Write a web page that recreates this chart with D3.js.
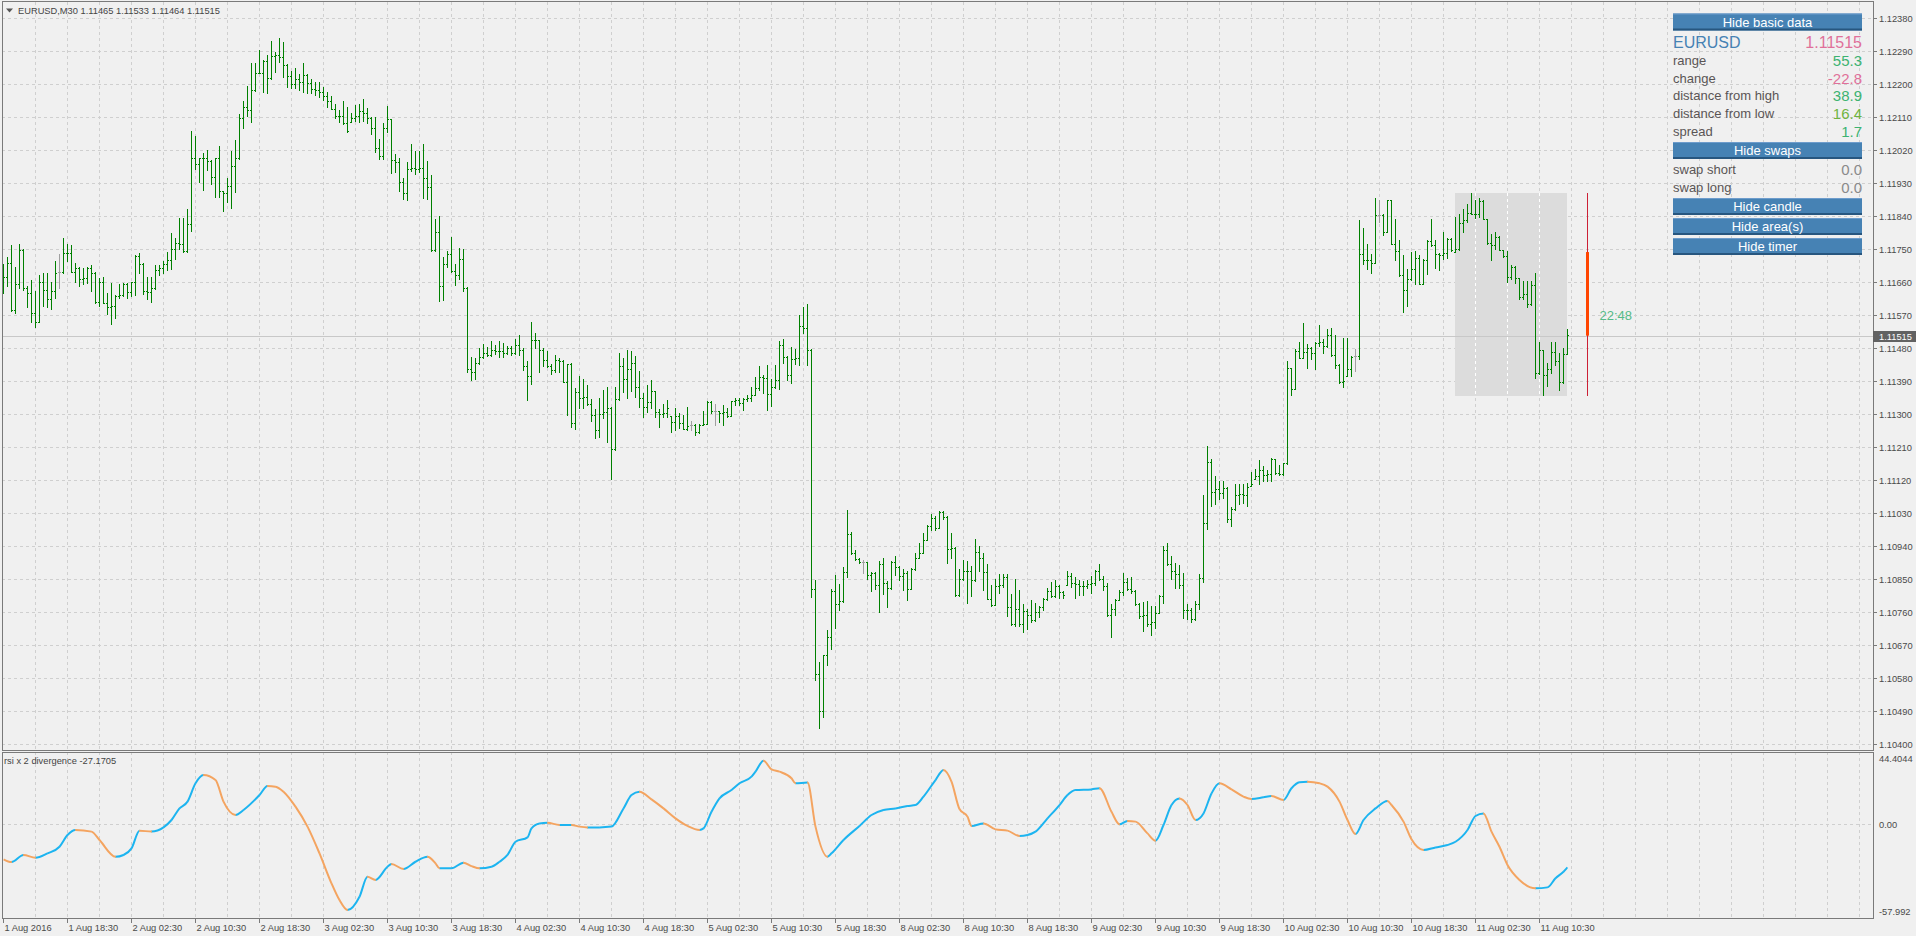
<!DOCTYPE html>
<html><head><meta charset="utf-8">
<script src="https://cdn.jsdelivr.net/npm/d3@7"></script>
<style>
html,body{margin:0;padding:0;background:#f0f0f0;overflow:hidden}
svg{display:block}
text{font-family:"Liberation Sans",Arial,sans-serif}
</style></head><body>
<svg id="c" width="1916" height="936"></svg>
<script>
// ---------------- DATA ----------------
const headerText = "EURUSD,M30  1.11465 1.11533 1.11464 1.11515";
const indicatorTitle = "rsi x 2 divergence -27.1705";

const opens = [
1.11670,1.11673,1.11711,1.11584,1.11654,1.11746,1.11643,1.11629,1.11575,1.11552,
1.11659,1.11637,1.11613,1.11635,1.11686,1.11686,1.11738,1.11740,1.11688,1.11697,
1.11668,1.11670,1.11697,1.11684,1.11605,1.11659,1.11604,1.11593,1.11595,1.11623,
1.11625,1.11654,1.11634,1.11659,1.11732,1.11709,1.11636,1.11634,1.11643,1.11693,
1.11697,1.11708,1.11719,1.11750,1.11765,1.11763,1.11745,1.11817,1.11999,1.11982,
1.11997,1.11999,1.11990,1.11945,1.11997,1.11908,1.11902,1.11923,1.11975,1.11997,
1.12106,1.12138,1.12129,1.12184,1.12231,1.12230,1.12263,1.12215,1.12277,1.12279,
1.12275,1.12252,1.12223,1.12199,1.12214,1.12205,1.12225,1.12202,1.12186,1.12184,
1.12179,1.12168,1.12154,1.12133,1.12113,1.12114,1.12093,1.12097,1.12106,1.12114,
1.12126,1.12120,1.12108,1.12079,1.12025,1.12004,1.12079,1.12104,1.11993,1.11987,
1.11933,1.11903,1.11968,1.11971,1.11968,1.11970,1.11944,1.11919,1.11748,1.11796,
1.11650,1.11709,1.11735,1.11689,1.11680,1.11724,1.11644,1.11424,1.11415,1.11439,
1.11455,1.11466,1.11462,1.11475,1.11471,1.11473,1.11466,1.11480,1.11466,1.11489,
1.11475,1.11430,1.11403,1.11503,1.11501,1.11475,1.11448,1.11430,1.11419,1.11446,
1.11445,1.11388,1.11436,1.11275,1.11360,1.11344,1.11346,1.11327,1.11296,1.11257,
1.11300,1.11305,1.11316,1.11205,1.11341,1.11430,1.11396,1.11424,1.11439,1.11374,
1.11344,1.11319,1.11333,1.11362,1.11305,1.11301,1.11303,1.11294,1.11277,1.11295,
1.11275,1.11260,1.11269,1.11269,1.11251,1.11271,1.11274,1.11334,1.11307,1.11307,
1.11303,1.11306,1.11295,1.11335,1.11337,1.11330,1.11341,1.11344,1.11353,1.11371,
1.11400,1.11398,1.11355,1.11374,1.11392,1.11489,1.11455,1.11407,1.11450,1.11453,
1.11539,1.11535,1.11475,1.10823,1.10592,1.10489,1.10642,1.10692,1.10816,1.10783,
1.10789,1.10869,1.10973,1.10921,1.10904,1.10895,1.10895,1.10862,1.10866,1.10835,
1.10891,1.10839,1.10825,1.10896,1.10882,1.10857,1.10866,1.10823,1.10877,1.10907,
1.10921,1.10957,1.10994,1.11016,1.10989,1.11033,1.11019,1.10933,1.10935,1.10807,
1.10850,1.10871,1.10873,1.10846,1.10924,1.10907,1.10869,1.10796,1.10780,1.10832,
1.10835,1.10855,1.10775,1.10728,1.10768,1.10728,1.10762,1.10751,1.10737,1.10760,
1.10774,1.10795,1.10818,1.10803,1.10832,1.10814,1.10833,1.10859,1.10839,1.10837,
1.10830,1.10832,1.10837,1.10838,1.10873,1.10849,1.10832,1.10751,1.10768,1.10794,
1.10814,1.10841,1.10822,1.10816,1.10781,1.10750,1.10751,1.10728,1.10732,1.10757,
1.10803,1.10930,1.10890,1.10871,1.10865,1.10835,1.10766,1.10765,1.10741,1.10783,
1.10853,1.11003,1.11170,1.11087,1.11096,1.11084,1.11099,1.11015,1.11040,1.11078,
1.11081,1.11079,1.11104,1.11122,1.11131,1.11146,1.11133,1.11137,1.11176,1.11138,
1.11135,1.11165,1.11425,1.11369,1.11472,1.11454,1.11470,1.11481,1.11467,1.11493,
1.11497,1.11485,1.11515,1.11460,1.11435,1.11388,1.11405,1.11424,1.11458,1.11458,
1.11737,1.11720,1.11721,1.11713,1.11842,1.11842,1.11796,1.11883,1.11764,1.11745,
1.11679,1.11637,1.11667,1.11695,1.11726,1.11655,1.11719,1.11772,1.11760,1.11735,
1.11733,1.11738,1.11776,1.11743,1.11749,1.11822,1.11829,1.11849,1.11846,1.11845,
1.11881,1.11832,1.11765,1.11760,1.11784,1.11747,1.11731,1.11675,1.11702,1.11670,
1.11620,1.11626,1.11599,1.11651,1.11411,1.11474,1.11406,1.11422,1.11470,1.11445,
1.11388,1.11465];

const highs = [
1.11708,1.11727,1.11761,1.11700,1.11764,1.11750,1.11650,1.11665,1.11636,1.11679,
1.11685,1.11684,1.11659,1.11717,1.11736,1.11779,1.11764,1.11761,1.11711,1.11700,
1.11697,1.11700,1.11705,1.11686,1.11670,1.11673,1.11631,1.11656,1.11625,1.11654,
1.11656,1.11656,1.11661,1.11734,1.11738,1.11711,1.11673,1.11675,1.11706,1.11705,
1.11717,1.11741,1.11793,1.11779,1.11834,1.11835,1.11859,1.12072,1.12058,1.11999,
1.12011,1.12020,1.11992,1.11999,1.12032,1.11909,1.11943,1.12017,1.12047,1.12118,
1.12154,1.12195,1.12257,1.12257,1.12293,1.12265,1.12279,1.12317,1.12286,1.12325,
1.12314,1.12254,1.12236,1.12243,1.12226,1.12256,1.12226,1.12214,1.12206,1.12205,
1.12191,1.12179,1.12168,1.12145,1.12129,1.12154,1.12137,1.12120,1.12143,1.12145,
1.12159,1.12134,1.12110,1.12111,1.12049,1.12093,1.12140,1.12105,1.12010,1.11998,
1.11944,1.11988,1.12035,1.12016,1.12016,1.12035,1.11991,1.11953,1.11833,1.11840,
1.11729,1.11745,1.11784,1.11710,1.11753,1.11751,1.11646,1.11455,1.11453,1.11480,
1.11492,1.11483,1.11500,1.11487,1.11500,1.11494,1.11486,1.11486,1.11505,1.11516,
1.11480,1.11445,1.11551,1.11521,1.11503,1.11480,1.11471,1.11436,1.11462,1.11453,
1.11446,1.11437,1.11439,1.11371,1.11405,1.11396,1.11380,1.11342,1.11314,1.11344,
1.11366,1.11374,1.11318,1.11373,1.11466,1.11453,1.11475,1.11471,1.11459,1.11418,
1.11357,1.11380,1.11394,1.11364,1.11314,1.11328,1.11337,1.11294,1.11315,1.11303,
1.11298,1.11318,1.11280,1.11273,1.11273,1.11307,1.11335,1.11335,1.11328,1.11309,
1.11325,1.11315,1.11336,1.11344,1.11344,1.11344,1.11353,1.11374,1.11400,1.11432,
1.11407,1.11435,1.11396,1.11435,1.11500,1.11505,1.11457,1.11483,1.11477,1.11569,
1.11592,1.11601,1.11477,1.10848,1.10623,1.10644,1.10712,1.10823,1.10862,1.10837,
1.10882,1.11039,1.10978,1.10930,1.10906,1.10903,1.10896,1.10869,1.10868,1.10898,
1.10907,1.10845,1.10898,1.10914,1.10885,1.10877,1.10871,1.10880,1.10921,1.10948,
1.10975,1.10998,1.11028,1.11021,1.11036,1.11035,1.11021,1.10975,1.10936,1.10877,
1.10903,1.10900,1.10886,1.10960,1.10939,1.10921,1.10892,1.10835,1.10851,1.10865,
1.10865,1.10865,1.10810,1.10851,1.10819,1.10783,1.10768,1.10794,1.10785,1.10777,
1.10798,1.10825,1.10841,1.10848,1.10833,1.10816,1.10873,1.10866,1.10855,1.10848,
1.10845,1.10848,1.10857,1.10875,1.10892,1.10859,1.10839,1.10783,1.10795,1.10821,
1.10866,1.10853,1.10855,1.10821,1.10785,1.10786,1.10791,1.10777,1.10777,1.10807,
1.10939,1.10948,1.10912,1.10894,1.10889,1.10866,1.10783,1.10771,1.10789,1.10865,
1.11080,1.11214,1.11178,1.11131,1.11117,1.11117,1.11100,1.11047,1.11108,1.11108,
1.11110,1.11113,1.11143,1.11151,1.11174,1.11158,1.11146,1.11181,1.11177,1.11160,
1.11167,1.11445,1.11426,1.11476,1.11497,1.11549,1.11490,1.11484,1.11495,1.11542,
1.11505,1.11533,1.11535,1.11515,1.11436,1.11506,1.11508,1.11458,1.11476,1.11828,
1.11808,1.11763,1.11735,1.11890,1.11883,1.11845,1.11884,1.11884,1.11831,1.11774,
1.11733,1.11695,1.11742,1.11745,1.11733,1.11722,1.11774,1.11831,1.11774,1.11740,
1.11795,1.11781,1.11779,1.11838,1.11845,1.11860,1.11872,1.11904,1.11885,1.11890,
1.11885,1.11833,1.11790,1.11796,1.11785,1.11747,1.11745,1.11705,1.11704,1.11671,
1.11663,1.11663,1.11663,1.11685,1.11497,1.11475,1.11438,1.11497,1.11497,1.11467,
1.11481,1.11533];

const lows = [
1.11629,1.11650,1.11582,1.11575,1.11643,1.11638,1.11593,1.11552,1.11538,1.11550,
1.11595,1.11591,1.11586,1.11617,1.11643,1.11684,1.11718,1.11686,1.11661,1.11650,
1.11654,1.11656,1.11636,1.11602,1.11595,1.11602,1.11573,1.11545,1.11563,1.11617,
1.11623,1.11617,1.11623,1.11625,1.11685,1.11626,1.11615,1.11606,1.11641,1.11679,
1.11684,1.11693,1.11695,1.11723,1.11750,1.11743,1.11743,1.11800,1.11967,1.11934,
1.11911,1.11965,1.11926,1.11893,1.11893,1.11855,1.11879,1.11861,1.11906,1.11995,
1.12079,1.12114,1.12097,1.12182,1.12229,1.12179,1.12176,1.12213,1.12234,1.12261,
1.12220,1.12193,1.12188,1.12188,1.12184,1.12179,1.12176,1.12175,1.12170,1.12165,
1.12156,1.12138,1.12132,1.12106,1.12097,1.12091,1.12068,1.12097,1.12100,1.12097,
1.12100,1.12095,1.12065,1.12015,1.11995,1.11995,1.12068,1.11956,1.11959,1.11907,
1.11886,1.11885,1.11962,1.11955,1.11959,1.11889,1.11887,1.11745,1.11744,1.11607,
1.11612,1.11701,1.11687,1.11651,1.11669,1.11636,1.11415,1.11392,1.11396,1.11437,
1.11453,1.11457,1.11457,1.11464,1.11455,1.11455,1.11464,1.11462,1.11464,1.11460,
1.11419,1.11339,1.11383,1.11480,1.11414,1.11430,1.11428,1.11410,1.11415,1.11415,
1.11387,1.11298,1.11265,1.11260,1.11315,1.11316,1.11324,1.11280,1.11235,1.11237,
1.11289,1.11225,1.11124,1.11203,1.11339,1.11360,1.11344,1.11362,1.11346,1.11319,
1.11291,1.11305,1.11316,1.11291,1.11264,1.11292,1.11291,1.11250,1.11257,1.11262,
1.11259,1.11257,1.11257,1.11242,1.11248,1.11270,1.11273,1.11303,1.11271,1.11277,
1.11271,1.11291,1.11294,1.11325,1.11325,1.11312,1.11335,1.11335,1.11352,1.11366,
1.11357,1.11312,1.11323,1.11371,1.11368,1.11439,1.11394,1.11385,1.11436,1.11435,
1.11521,1.11433,1.10800,1.10574,1.10444,1.10474,1.10616,1.10660,1.10715,1.10766,
1.10787,1.10855,1.10919,1.10901,1.10894,1.10866,1.10850,1.10816,1.10823,1.10760,
1.10810,1.10775,1.10824,1.10862,1.10846,1.10821,1.10792,1.10822,1.10875,1.10906,
1.10920,1.10956,1.10985,1.10985,1.10988,1.11015,1.10894,1.10907,1.10805,1.10805,
1.10848,1.10785,1.10805,1.10844,1.10871,1.10821,1.10795,1.10777,1.10779,1.10812,
1.10828,1.10750,1.10725,1.10721,1.10721,1.10706,1.10714,1.10734,1.10736,1.10746,
1.10766,1.10794,1.10800,1.10802,1.10798,1.10798,1.10833,1.10828,1.10798,1.10807,
1.10807,1.10825,1.10812,1.10835,1.10848,1.10821,1.10750,1.10692,1.10753,1.10793,
1.10807,1.10821,1.10812,1.10780,1.10744,1.10707,1.10723,1.10698,1.10716,1.10756,
1.10785,1.10889,1.10850,1.10825,1.10825,1.10745,1.10741,1.10732,1.10737,1.10768,
1.10841,1.10986,1.11049,1.11054,1.11067,1.11072,1.11005,1.10995,1.11038,1.11054,
1.11058,1.11049,1.11104,1.11122,1.11108,1.11117,1.11117,1.11117,1.11135,1.11134,
1.11134,1.11163,1.11351,1.11368,1.11452,1.11453,1.11426,1.11449,1.11422,1.11485,
1.11467,1.11484,1.11458,1.11426,1.11385,1.11374,1.11405,1.11404,1.11417,1.11449,
1.11710,1.11695,1.11685,1.11712,1.11824,1.11787,1.11795,1.11763,1.11720,1.11676,
1.11578,1.11595,1.11665,1.11654,1.11654,1.11654,1.11681,1.11758,1.11697,1.11693,
1.11722,1.11725,1.11745,1.11742,1.11748,1.11795,1.11824,1.11845,1.11835,1.11838,
1.11831,1.11763,1.11720,1.11751,1.11747,1.11729,1.11660,1.11669,1.11656,1.11615,
1.11615,1.11592,1.11596,1.11399,1.11410,1.11351,1.11376,1.11413,1.11435,1.11365,
1.11385,1.11464];

const closes = [
1.11673,1.11711,1.11584,1.11654,1.11746,1.11643,1.11629,1.11575,1.11552,1.11659,
1.11637,1.11613,1.11635,1.11684,1.11686,1.11738,1.11740,1.11688,1.11697,1.11668,
1.11670,1.11697,1.11684,1.11605,1.11659,1.11604,1.11593,1.11595,1.11623,1.11625,
1.11654,1.11634,1.11659,1.11732,1.11709,1.11636,1.11634,1.11643,1.11693,1.11697,
1.11708,1.11719,1.11750,1.11765,1.11763,1.11745,1.11817,1.11999,1.11982,1.11997,
1.11999,1.11990,1.11945,1.11997,1.11908,1.11902,1.11923,1.11975,1.11997,1.12106,
1.12138,1.12129,1.12184,1.12231,1.12230,1.12263,1.12215,1.12277,1.12279,1.12275,
1.12252,1.12223,1.12199,1.12214,1.12205,1.12225,1.12202,1.12186,1.12184,1.12179,
1.12168,1.12154,1.12133,1.12113,1.12114,1.12093,1.12072,1.12106,1.12114,1.12126,
1.12120,1.12108,1.12079,1.12025,1.12004,1.12079,1.12104,1.11993,1.11987,1.11933,
1.11903,1.11968,1.11971,1.11968,1.11970,1.11944,1.11919,1.11748,1.11796,1.11650,
1.11709,1.11735,1.11689,1.11680,1.11724,1.11644,1.11424,1.11415,1.11439,1.11455,
1.11466,1.11462,1.11475,1.11471,1.11473,1.11466,1.11480,1.11466,1.11489,1.11475,
1.11430,1.11403,1.11503,1.11501,1.11475,1.11448,1.11430,1.11419,1.11446,1.11445,
1.11388,1.11436,1.11275,1.11360,1.11344,1.11346,1.11327,1.11296,1.11257,1.11300,
1.11305,1.11316,1.11205,1.11341,1.11430,1.11396,1.11424,1.11439,1.11374,1.11344,
1.11319,1.11333,1.11362,1.11305,1.11301,1.11303,1.11316,1.11277,1.11295,1.11275,
1.11260,1.11268,1.11269,1.11251,1.11271,1.11274,1.11334,1.11307,1.11307,1.11303,
1.11306,1.11295,1.11335,1.11337,1.11330,1.11341,1.11344,1.11353,1.11371,1.11400,
1.11398,1.11355,1.11374,1.11392,1.11489,1.11455,1.11407,1.11450,1.11453,1.11539,
1.11535,1.11475,1.10823,1.10592,1.10489,1.10642,1.10692,1.10816,1.10783,1.10789,
1.10869,1.10973,1.10921,1.10904,1.10895,1.10895,1.10862,1.10866,1.10835,1.10891,
1.10839,1.10825,1.10896,1.10882,1.10857,1.10866,1.10823,1.10877,1.10907,1.10921,
1.10957,1.10994,1.11016,1.10989,1.11033,1.11019,1.10933,1.10935,1.10807,1.10850,
1.10871,1.10873,1.10846,1.10924,1.10907,1.10869,1.10796,1.10780,1.10832,1.10835,
1.10855,1.10775,1.10728,1.10768,1.10728,1.10762,1.10751,1.10737,1.10760,1.10774,
1.10795,1.10818,1.10803,1.10832,1.10814,1.10807,1.10859,1.10839,1.10837,1.10830,
1.10832,1.10837,1.10838,1.10873,1.10849,1.10832,1.10751,1.10768,1.10794,1.10814,
1.10841,1.10822,1.10816,1.10781,1.10750,1.10751,1.10728,1.10732,1.10757,1.10803,
1.10930,1.10890,1.10871,1.10865,1.10835,1.10766,1.10765,1.10741,1.10783,1.10853,
1.11003,1.11170,1.11087,1.11096,1.11084,1.11099,1.11015,1.11040,1.11078,1.11081,
1.11079,1.11100,1.11108,1.11131,1.11146,1.11133,1.11137,1.11176,1.11138,1.11135,
1.11165,1.11425,1.11369,1.11472,1.11454,1.11470,1.11481,1.11467,1.11493,1.11497,
1.11485,1.11515,1.11460,1.11435,1.11388,1.11390,1.11424,1.11456,1.11458,1.11737,
1.11720,1.11721,1.11713,1.11842,1.11842,1.11796,1.11883,1.11764,1.11745,1.11679,
1.11637,1.11667,1.11695,1.11726,1.11655,1.11719,1.11772,1.11760,1.11735,1.11733,
1.11738,1.11776,1.11746,1.11749,1.11822,1.11829,1.11849,1.11846,1.11845,1.11881,
1.11832,1.11765,1.11760,1.11784,1.11748,1.11731,1.11675,1.11702,1.11670,1.11620,
1.11626,1.11599,1.11651,1.11411,1.11474,1.11406,1.11422,1.11470,1.11445,1.11388,
1.11465,1.11515];

// time-axis labels, one every 16 bars starting at bar 0
const timeLabels = ["1 Aug 2016","1 Aug 18:30","2 Aug 02:30","2 Aug 10:30","2 Aug 18:30",
"3 Aug 02:30","3 Aug 10:30","3 Aug 18:30","4 Aug 02:30","4 Aug 10:30","4 Aug 18:30",
"5 Aug 02:30","5 Aug 10:30","5 Aug 18:30","8 Aug 02:30","8 Aug 10:30","8 Aug 18:30",
"9 Aug 02:30","9 Aug 10:30","9 Aug 18:30","10 Aug 02:30","10 Aug 10:30","10 Aug 18:30",
"11 Aug 02:30","11 Aug 10:30"];
const labelStep = 16;

const priceTicks = [1.12380,1.12290,1.12200,1.12110,1.12020,1.11930,1.11840,1.11750,1.11660,
1.11570,1.11480,1.11390,1.11300,1.11210,1.11120,1.11030,1.10940,1.10850,1.10760,1.10670,
1.10580,1.10490,1.10400];
const bidPrice = 1.11515;

// indicator: bar index and value
const rsiBar = [0,2,5,8,11,14,16,18,22,24,28,30,32,34,37,40,42,44,46,48,50,53,55,58,60,64,66,68,70,73,
76,79,82,84,86,89,91,93,96,97,100,103,106,108,109,112,115,117,119,122,124,126,128,131,132,134,136,139,
142,144,146,149,152,155,157,159,162,165,168,171,174,175,177,179,182,184,187,188,190,192,194,197,198,
201,203,206,207,210,214,217,220,223,226,228,230,233,235,237,239,241,242,245,248,251,254,256,258,261,
264,266,268,272,274,277,279,281,283,286,288,290,292,294,296,298,300,302,304,307,310,312,315,317,320,
322,324,326,329,331,334,336,338,340,343,346,347,350,352,355,358,361,363,366,368,370,372,374,376,379,
383,386,388,390,391];
const rsiVal = [-22.2,-23.9,-19.5,-21.2,-18.5,-14.4,-7.1,-4.0,-5.0,-10.2,-20.6,-19.5,-15.4,-4.4,-5.0,
-2.4,2.2,9.4,13.6,25.0,30.1,27.0,13.6,5.3,8.4,17.7,23.3,22.9,19.8,10.5,-1.9,-18.5,-37.1,-47.5,-53.7,
-45.4,-33.0,-35.0,-26.8,-25.1,-28.2,-23.7,-20.6,-24.7,-27.8,-27.8,-24.3,-26.4,-27.8,-26.8,-23.7,-19.5,
-11.3,-8.6,-3.0,0.1,0.5,-0.9,-0.9,-1.9,-2.4,-2.4,-1.9,9.4,17.7,19.8,15.0,9.4,3.2,-1.5,-4.0,-3.0,7.3,
15.6,20.8,25.0,29.1,32.2,39.0,33.6,32.2,28.1,25.0,25.4,-1.9,-20.6,-18.5,-10.2,-1.5,5.3,8.4,9.4,10.9,
11.5,16.7,27.0,33.2,26.0,9.0,4.3,-1.5,0.1,-3.6,-4.4,-7.7,-7.1,-5.0,3.2,11.5,17.7,20.8,21.2,21.9,7.3,
-0.5,1.6,1.2,-6.1,-10.6,-0.9,11.5,15.6,11.5,2.2,6.3,18.7,25.0,21.2,16.7,15.2,16.3,17.1,14.6,21.9,25.6,
26.0,25.0,22.9,13.6,2.2,-6.5,2.2,9.4,14.0,11.5,1.2,-9.8,-16.4,-14.8,-13.3,-11.3,-4.0,4.7,6.3,-5.0,
-14.4,-25.7,-35.0,-40.2,-39.6,-34.0,-29.9,-27.1705];
const rsiTicks = [44.4044, 0, -57.992];
const rsiTickLabels = ["44.4044","0.00","-57.992"];

// info panel
const symbolName = "EURUSD";
const symbolPrice = "1.11515";
const panelLabels = ["range","change","distance from high","distance from low","spread"];
const panelValues = ["55.3","-22.8","38.9","16.4","1.7"];
const panelValueColors = ["#3cb371","#e0709a","#3cb371","#6fb43f","#3cb371"];
const swapLabels = ["swap short","swap long"];
const swapValues = ["0.0","0.0"];
const buttonLabels = ["Hide basic data","Hide swaps","Hide candle","Hide area(s)","Hide timer"];
const timerText = "22:48";
const dayStartBar = 363;      // first bar of 11 Aug
const dayOpen = 1.11743;

// ---------------- DRAWING ----------------
const svg = d3.select("#c");
const n = closes.length;
const W = 1916, H = 936;
const LEFT = 2, RIGHT = 1873, MAIN_TOP = 1.5, MAIN_BOT = 750, IND_TOP = 752, IND_BOT = 918;
const FONT = "'Liberation Sans', Arial, sans-serif";

const x = d3.scaleLinear().domain([0, n - 1]).range([3.5, 3.5 + 4 * (n - 1)]);
const y = d3.scaleLinear().domain([1.10400, 1.12380]).range([744.5, 18.5]);
const yr = d3.scaleLinear().domain([-57.992, 44.4044]).range([917, 752]);

svg.append("rect").attr("width", W).attr("height", H).attr("fill", "#f0f0f0");

const gridColor = "#cfcfcf";
const dash = "3,3";
const vGridBars = d3.range(8, 470, 8).filter(b => x(b) < RIGHT);

// main grid
const grid = svg.append("g").attr("shape-rendering", "crispEdges");
grid.selectAll(".hg").data(priceTicks).join("line")
  .attr("x1", LEFT).attr("x2", RIGHT)
  .attr("y1", d => Math.round(y(d) - 0.5) + 0.5).attr("y2", d => Math.round(y(d) - 0.5) + 0.5)
  .attr("stroke", gridColor).attr("stroke-dasharray", dash);
grid.selectAll(".vg").data(vGridBars).join("line")
  .attr("x1", d => x(d)).attr("x2", d => x(d))
  .attr("y1", MAIN_TOP).attr("y2", MAIN_BOT)
  .attr("stroke", gridColor).attr("stroke-dasharray", dash);
// indicator grid
grid.selectAll(".vgi").data(vGridBars).join("line")
  .attr("x1", d => x(d)).attr("x2", d => x(d))
  .attr("y1", IND_TOP).attr("y2", IND_BOT)
  .attr("stroke", gridColor).attr("stroke-dasharray", dash);
grid.append("line").attr("x1", LEFT).attr("x2", RIGHT)
  .attr("y1", Math.round(yr(0)) + 0.5).attr("y2", Math.round(yr(0)) + 0.5)
  .attr("stroke", gridColor).attr("stroke-dasharray", dash);

// today's area (high/low box)
const dayHigh = d3.max(highs.slice(dayStartBar));
const dayLow = d3.min(lows.slice(dayStartBar));
const bx0 = x(dayStartBar) - 0.5, bx1 = x(n - 1) - 0.5;
svg.append("rect").attr("x", bx0).attr("width", bx1 - bx0)
  .attr("y", Math.round(y(dayHigh))).attr("height", Math.round(y(dayLow)) - Math.round(y(dayHigh)))
  .attr("fill", "#dcdcdc").attr("shape-rendering", "crispEdges");
svg.append("g").attr("shape-rendering", "crispEdges")
  .selectAll("line").data(vGridBars.filter(b => x(b) > bx0 && x(b) < bx1)).join("line")
  .attr("x1", d => x(d)).attr("x2", d => x(d))
  .attr("y1", Math.round(y(dayHigh))).attr("y2", Math.round(y(dayLow)))
  .attr("stroke", "#ffffff").attr("stroke-dasharray", dash);

// bid line
const bidY = Math.round(y(bidPrice)) + 0.5;
svg.append("line").attr("x1", LEFT).attr("x2", RIGHT).attr("y1", bidY).attr("y2", bidY)
  .attr("stroke", "#c8c8c8").attr("shape-rendering", "crispEdges");

// OHLC bars
const bars = d3.range(n).map(i => ({i, o: opens[i], h: highs[i], l: lows[i], c: closes[i]}));
const gb = svg.append("g").attr("shape-rendering", "crispEdges");
const col = d => (d.o === d.c ? "#a0a0a0" : "#008000");
const ry = v => Math.round(y(v) - 0.5) + 0.5;
gb.selectAll(".v").data(bars).join("line")
  .attr("x1", d => x(d.i)).attr("x2", d => x(d.i))
  .attr("y1", d => ry(d.h) - 0.5).attr("y2", d => Math.max(ry(d.l) + 0.5, ry(d.h) + 0.5))
  .attr("stroke", col);
gb.selectAll(".o").data(bars).join("line")
  .attr("x1", d => x(d.i) - 1.5).attr("x2", d => x(d.i) - 0.5)
  .attr("y1", d => ry(d.o)).attr("y2", d => ry(d.o)).attr("stroke", col);
gb.selectAll(".cl").data(bars).join("line")
  .attr("x1", d => x(d.i) + 0.5).attr("x2", d => x(d.i) + 1.5)
  .attr("y1", d => ry(d.c)).attr("y2", d => ry(d.c)).attr("stroke", col);

// daily candle at the right
const cx = x(n - 1) + 20;
svg.append("line").attr("x1", cx).attr("x2", cx).attr("y1", y(dayHigh)).attr("y2", y(dayLow))
  .attr("stroke", "#cc2035").attr("stroke-width", 1).attr("shape-rendering", "crispEdges");
svg.append("rect").attr("x", cx - 1.5).attr("width", 3)
  .attr("y", y(dayOpen)).attr("height", y(closes[n - 1]) - y(dayOpen))
  .attr("fill", "#ff4500");
svg.append("text").attr("x", cx + 12).attr("y", 315).attr("dominant-baseline", "central")
  .attr("font-size", 13).attr("fill", "#55bb88").attr("font-family", FONT).text(timerText);

// indicator line (blue rising, orange falling)
const pts = rsiBar.map((b, i) => [x(b), yr(rsiVal[i])]);
const lineGen = d3.line().curve(d3.curveMonotoneX);
const defs = svg.append("defs");
const cpUp = defs.append("clipPath").attr("id", "cpUp");
const cpDn = defs.append("clipPath").attr("id", "cpDn");
for (let i = 0; i < pts.length - 1; i++) {
  const up = rsiVal[i + 1] >= rsiVal[i];
  (up ? cpUp : cpDn).append("rect").attr("x", pts[i][0] - 0.3).attr("width", pts[i + 1][0] - pts[i][0] + 0.6)
    .attr("y", IND_TOP).attr("height", IND_BOT - IND_TOP);
}
const dPath = lineGen(pts);
svg.append("path").attr("d", dPath).attr("fill", "none").attr("stroke", "#1cb4f0")
  .attr("stroke-width", 2).attr("clip-path", "url(#cpUp)");
svg.append("path").attr("d", dPath).attr("fill", "none").attr("stroke", "#f4a460")
  .attr("stroke-width", 2).attr("clip-path", "url(#cpDn)");

// frames
const frame = svg.append("g").attr("fill", "none").attr("stroke", "#7a7a7a").attr("shape-rendering", "crispEdges");
frame.append("rect").attr("x", LEFT).attr("y", MAIN_TOP).attr("width", RIGHT - LEFT).attr("height", MAIN_BOT - MAIN_TOP);
frame.append("rect").attr("x", LEFT).attr("y", IND_TOP).attr("width", RIGHT - LEFT).attr("height", IND_BOT - IND_TOP);

// price axis labels
const axisText = "#4a4a4a";
const fs = 9.3;
const pa = svg.append("g").attr("font-family", FONT).attr("font-size", fs).attr("fill", axisText);
priceTicks.forEach(p => {
  const yy = Math.round(y(p) - 0.5) + 0.5;
  svg.append("line").attr("x1", RIGHT).attr("x2", RIGHT + 4).attr("y1", yy).attr("y2", yy)
    .attr("stroke", "#7a7a7a").attr("shape-rendering", "crispEdges");
  pa.append("text").attr("x", 1879).attr("y", yy).attr("dominant-baseline", "central").text(d3.format(".5f")(p));
});
// bid label
svg.append("rect").attr("x", RIGHT).attr("y", bidY - 5.5).attr("width", W - RIGHT).attr("height", 11).attr("fill", "#626262");
svg.append("text").attr("x", 1879).attr("y", bidY).attr("dominant-baseline", "central")
  .attr("font-family", FONT).attr("font-size", fs).attr("fill", "#ffffff").text(d3.format(".5f")(bidPrice));

// indicator axis labels
rsiTicks.forEach((v, i) => {
  const yy = i === 0 ? 759 : (i === 2 ? 912 : Math.round(yr(v)) + 0.5);
  svg.append("text").attr("x", 1879).attr("y", yy).attr("dominant-baseline", "central")
    .attr("font-family", FONT).attr("font-size", fs).attr("fill", axisText).text(rsiTickLabels[i]);
});

// time axis
timeLabels.forEach((t, k) => {
  const xx = x(k * labelStep);
  svg.append("line").attr("x1", xx).attr("x2", xx).attr("y1", IND_BOT).attr("y2", IND_BOT + 5)
    .attr("stroke", "#7a7a7a").attr("shape-rendering", "crispEdges");
  svg.append("text").attr("x", xx + 1).attr("y", 928).attr("dominant-baseline", "central")
    .attr("font-family", FONT).attr("font-size", fs).attr("fill", axisText).text(t);
});

// header & indicator title
svg.append("path").attr("d", "M6,8.5 L13,8.5 L9.5,12.5 Z").attr("fill", "#555");
svg.append("text").attr("x", 18).attr("y", 10.7).attr("dominant-baseline", "central")
  .attr("font-family", FONT).attr("font-size", fs).attr("fill", "#444").text(headerText);
svg.append("text").attr("x", 4).attr("y", 761).attr("dominant-baseline", "central")
  .attr("font-family", FONT).attr("font-size", fs).attr("fill", "#444").text(indicatorTitle);

// info panel
const PX0 = 1673, PX1 = 1862;
function button(label, top) {
  const g = svg.append("g");
  g.append("rect").attr("x", PX0).attr("y", top).attr("width", PX1 - PX0).attr("height", 17).attr("fill", "#4682b4");
  g.append("rect").attr("x", PX0).attr("y", top + 15).attr("width", PX1 - PX0).attr("height", 2).attr("fill", "#27567f");
  g.append("rect").attr("x", PX0).attr("y", top).attr("width", PX1 - PX0).attr("height", 1).attr("fill", "#6d9ccc");
  g.append("text").attr("x", (PX0 + PX1) / 2).attr("y", top + 8.5).attr("text-anchor", "middle")
    .attr("dominant-baseline", "central").attr("font-family", FONT).attr("font-size", 13)
    .attr("fill", "#ffffff").text(label);
}
const btnTops = [13.5, 142, 198, 218, 238];
buttonLabels.forEach((b, i) => button(b, btnTops[i]));
svg.append("text").attr("x", PX0).attr("y", 42.5).attr("dominant-baseline", "central")
  .attr("font-family", FONT).attr("font-size", 16).attr("fill", "#4682b4").text(symbolName);
svg.append("text").attr("x", PX1).attr("y", 42.5).attr("text-anchor", "end").attr("dominant-baseline", "central")
  .attr("font-family", FONT).attr("font-size", 16).attr("fill", "#e0709a").text(symbolPrice);
const rowY = [60, 78, 95.7, 113.3, 131];
panelLabels.forEach((l, i) => {
  svg.append("text").attr("x", PX0).attr("y", rowY[i]).attr("dominant-baseline", "central")
    .attr("font-family", FONT).attr("font-size", 13).attr("fill", "#5a5555").text(l);
  svg.append("text").attr("x", PX1).attr("y", rowY[i]).attr("text-anchor", "end").attr("dominant-baseline", "central")
    .attr("font-family", FONT).attr("font-size", 15).attr("fill", panelValueColors[i]).text(panelValues[i]);
});
const swapY = [169.5, 187.7];
swapLabels.forEach((l, i) => {
  svg.append("text").attr("x", PX0).attr("y", swapY[i]).attr("dominant-baseline", "central")
    .attr("font-family", FONT).attr("font-size", 13).attr("fill", "#5a5555").text(l);
  svg.append("text").attr("x", PX1).attr("y", swapY[i]).attr("text-anchor", "end").attr("dominant-baseline", "central")
    .attr("font-family", FONT).attr("font-size", 15).attr("fill", "#8a8a8a").text(swapValues[i]);
});
</script></body></html>
